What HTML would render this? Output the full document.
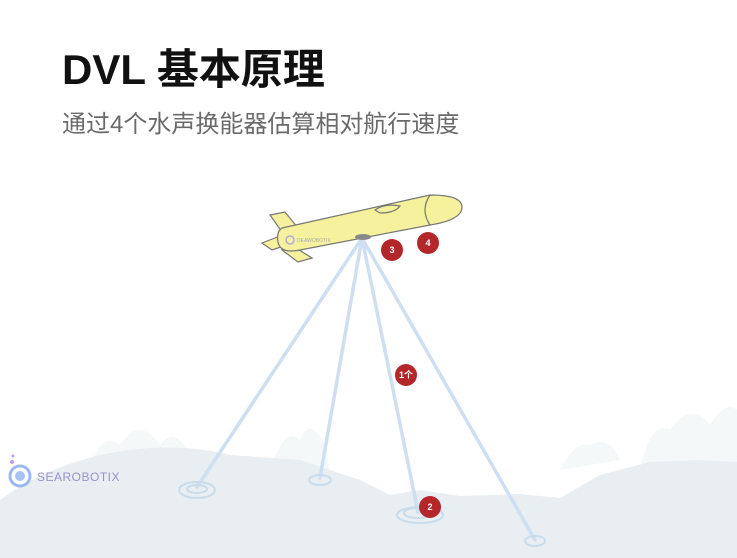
<!DOCTYPE html>
<html><head><meta charset="utf-8"><style>
body{margin:0;width:737px;height:558px;background:#fff;overflow:hidden;position:relative;font-family:"Liberation Sans","Noto Sans CJK SC",sans-serif}
.t{position:absolute;left:62px;top:36px;font-size:42px;font-weight:bold;color:#111}
.s{position:absolute;left:62px;top:104px;font-size:24px;color:#6a6a6a}
svg{position:absolute;left:0;top:0}
</style></head><body>
<svg width="737" height="558">
<g fill="#f3f6f7" opacity="0.8">
<path d="M90 470 Q100 430 120 445 Q140 415 160 445 Q175 425 190 455 L200 470Z"/>
<path d="M270 470 Q285 425 300 440 Q310 415 325 445 L330 470Z"/>
<path d="M640 470 Q650 420 670 430 Q690 400 710 425 Q725 400 737 410 L737 470Z"/>
<path d="M560 470 Q575 440 590 445 Q610 435 620 460Z"/>
</g>
<path d="M0 500 Q40 470 100 455 Q170 440 230 455 L300 460 L330 470 L360 480 L390 495 L420 490 L460 496 L520 494 L560 498 L600 475 L650 462 L700 460 L737 462 L737 558 L0 558Z" fill="#e8eef1"/>
<g stroke="#cddff0" stroke-width="3.5" stroke-linecap="round">
<line x1="362" y1="238" x2="197" y2="487"/>
<line x1="362" y1="238" x2="320" y2="478"/>
<line x1="362" y1="238" x2="418" y2="512"/>
<line x1="362" y1="238" x2="535" y2="540"/>
</g>
<g fill="none" stroke="#c9dcec" stroke-width="2">
<ellipse cx="197" cy="490" rx="18" ry="8"/><ellipse cx="197" cy="489" rx="10" ry="4"/>
<ellipse cx="320" cy="480" rx="11" ry="5"/>
<ellipse cx="420" cy="515" rx="23" ry="8"/><ellipse cx="418" cy="513" rx="14" ry="5"/>
<ellipse cx="535" cy="541" rx="10" ry="5"/>
</g>
<g stroke="#777" stroke-width="1.2" fill="#f6f19c">
<path d="M270 215 L285 212 L298 228 L282 232Z"/>
<path d="M282 250 L296 248 L312 258 L298 262Z"/>
<path d="M262 243 L280 236 L290 244 L272 250Z"/>
<path d="M282 228 L430 195 Q462 195 462 207 Q462 220 430 225 L300 250 Q280 254 278 242 Q276 232 282 228Z"/>
<path d="M430 195 Q420 210 430 225" fill="none"/>
<path d="M375 210 Q385 203 400 206 Q395 213 380 213Z"/>
</g>
<ellipse cx="363" cy="237" rx="8" ry="3" fill="#888"/>
<circle cx="290" cy="240" r="4" fill="none" stroke="#b9a6e0" stroke-width="1.5"/>
<text x="297" y="242" font-size="5" fill="#aaa" font-family="Liberation Sans">DEAWOBOTIX</text>
<g font-family="Liberation Sans" font-weight="bold" fill="#fff" text-anchor="middle" font-size="9">
<circle cx="392" cy="250" r="11" fill="#b3262a"/><text x="392" y="253">3</text>
<circle cx="428" cy="243" r="11" fill="#b3262a"/><text x="428" y="246">4</text>
<circle cx="406" cy="375" r="11" fill="#b3262a"/><text x="406" y="378" font-family="Liberation Sans,Noto Sans CJK SC,sans-serif">1个</text>
<circle cx="430" cy="507" r="11" fill="#b3262a"/><text x="430" y="510">2</text>
</g>
<circle cx="20" cy="476" r="10" fill="none" stroke="#9ab8f0" stroke-width="3"/>
<circle cx="20" cy="476" r="5" fill="#a8c4f4"/>
<circle cx="12" cy="462" r="2" fill="#c79ae8"/><circle cx="13" cy="456" r="1.5" fill="#c79ae8"/>
<text x="37" y="481" font-family="Liberation Sans" font-size="12" fill="#9a90cc" letter-spacing="0.5">SEAROBOTIX</text>
</svg>
<div class="t">DVL 基本原理</div>
<div class="s">通过4个水声换能器估算相对航行速度</div>
</body></html>
